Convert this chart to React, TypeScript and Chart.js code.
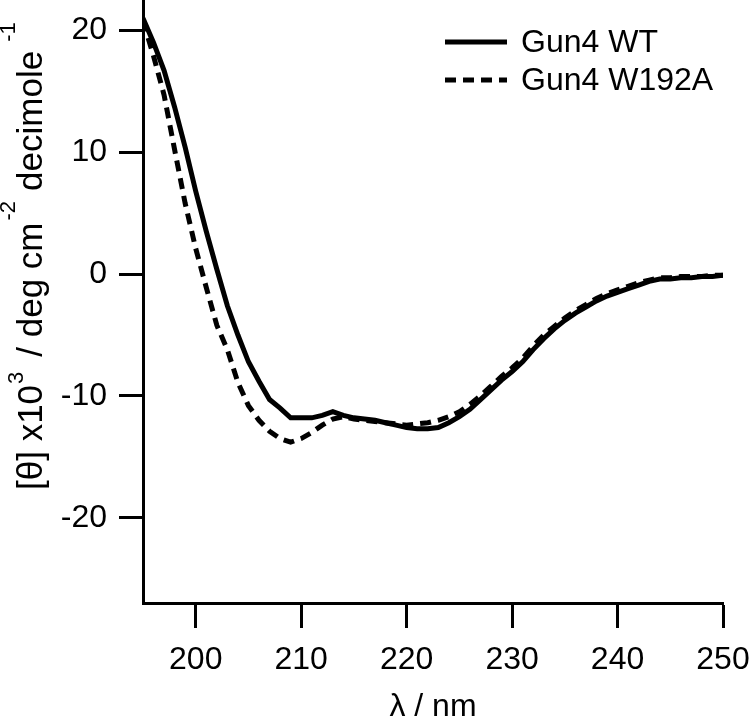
import React, { useEffect, useRef } from "react";
import { Chart, registerables } from "chart.js";

Chart.register(...registerables);

// Wavelength (nm)
const wavelengths = [
  195, 196, 197, 198, 199, 200, 201, 202, 203, 204, 205, 206, 207, 208, 209,
  210, 211, 212, 213, 214, 215, 216, 217, 218, 219, 220, 221, 222, 223, 224,
  225, 226, 227, 228, 229, 230, 231, 232, 233, 234, 235, 236, 237, 238, 239,
  240, 241, 242, 243, 244, 245, 246, 247, 248, 249, 250,
];

// [θ] x10^3 for Gun4 WT
const wtValues = [
  21.0, 19.0, 16.7, 13.7, 10.4, 6.8, 3.5, 0.4, -2.6, -5.0, -7.2, -8.8, -10.3,
  -11.0, -11.8, -11.8, -11.8, -11.6, -11.3, -11.6, -11.8, -11.9, -12.0, -12.2,
  -12.4, -12.6, -12.7, -12.7, -12.6, -12.2, -11.7, -11.1, -10.3, -9.5, -8.7,
  -8.0, -7.2, -6.2, -5.3, -4.5, -3.8, -3.2, -2.7, -2.2, -1.8, -1.5, -1.2, -0.9,
  -0.6, -0.4, -0.4, -0.3, -0.3, -0.2, -0.2, -0.1,
];

// [θ] x10^3 for Gun4 W192A
const mutValues = [
  20.8, 17.9, 14.7, 10.2, 5.8, 2.1, -1.1, -4.2, -6.2, -8.9, -10.8, -12.0,
  -12.9, -13.5, -13.8, -13.5, -13.0, -12.4, -11.9, -11.7, -11.9, -12.0, -12.1,
  -12.2, -12.3, -12.4, -12.3, -12.2, -12.0, -11.7, -11.3, -10.7, -10.0, -9.2,
  -8.4, -7.7, -6.9, -5.9, -5.0, -4.3, -3.6, -3.0, -2.5, -2.0, -1.6, -1.3, -1.0,
  -0.7, -0.5, -0.3, -0.3, -0.2, -0.2, -0.2, -0.1, -0.1,
];

const seriesLabels = ["Gun4 WT", "Gun4 W192A"];
const xTicks = [200, 210, 220, 230, 240, 250];
const yTicks = [-20, -10, 0, 10, 20];

const FONT = "'Liberation Sans', Arial, Helvetica, sans-serif";

const annotationPlugin = {
  id: "customText",
  afterDraw(chart: any) {
    const ctx = chart.ctx as CanvasRenderingContext2D;
    const area = chart.chartArea;
    ctx.save();
    ctx.fillStyle = "#000";
    ctx.strokeStyle = "#000";

    // Legend
    const legendX0 = 445;
    const legendX1 = 507;
    const legendY = [42, 80];
    chart.data.datasets.forEach((ds: any, i: number) => {
      ctx.save();
      ctx.lineWidth = 5;
      ctx.setLineDash(ds.borderDash || []);
      ctx.beginPath();
      ctx.moveTo(legendX0, legendY[i]);
      ctx.lineTo(legendX1, legendY[i]);
      ctx.stroke();
      ctx.restore();
      ctx.font = `32px ${FONT}`;
      ctx.textBaseline = "middle";
      ctx.textAlign = "left";
      ctx.fillText(ds.label, 521, legendY[i] + 1);
    });

    // X axis title
    ctx.font = `32px ${FONT}`;
    ctx.textAlign = "center";
    ctx.textBaseline = "alphabetic";
    ctx.fillText("λ / nm", (area.left + area.right) / 2, 716);

    // Y axis title with superscripts
    ctx.save();
    ctx.translate(42, 490);
    ctx.rotate(-Math.PI / 2);
    ctx.textAlign = "left";
    ctx.textBaseline = "alphabetic";
    const parts: { t: string; sup: boolean; dy: number; gap: number }[] = [
      { t: "[θ] x10", sup: false, dy: 0, gap: 1 },
      { t: "3", sup: true, dy: -19, gap: 15 },
      { t: "/ deg cm", sup: false, dy: 0, gap: 2 },
      { t: "-2", sup: true, dy: -27, gap: 10 },
      { t: "decimole", sup: false, dy: 0, gap: 9 },
      { t: "-1", sup: true, dy: -27, gap: 0 },
    ];
    let x = 0;
    for (const p of parts) {
      ctx.font = p.sup ? `22px ${FONT}` : `35px ${FONT}`;
      ctx.fillText(p.t, x, p.dy);
      x += ctx.measureText(p.t).width + p.gap;
    }
    ctx.restore();
    ctx.restore();
  },
};

export default function App() {
  const canvasRef = useRef<HTMLCanvasElement | null>(null);

  useEffect(() => {
    if (!canvasRef.current) return;
    const chart = new Chart(canvasRef.current, {
      type: "line",
      data: {
        datasets: [
          {
            label: seriesLabels[0],
            data: wavelengths.map((w, i) => ({ x: w, y: wtValues[i] })),
            borderColor: "#000",
            borderWidth: 5,
            pointRadius: 0,
            tension: 0,
            fill: false,
          },
          {
            label: seriesLabels[1],
            data: wavelengths.map((w, i) => ({ x: w, y: mutValues[i] })),
            borderColor: "#000",
            borderWidth: 5,
            borderDash: [11, 7],
            pointRadius: 0,
            tension: 0,
            fill: false,
          },
        ],
      },
      options: {
        animation: false,
        responsive: false,
        devicePixelRatio: 1,
        layout: { padding: { left: 0, top: 0, right: 27, bottom: 0 } },
        plugins: {
          legend: { display: false },
          tooltip: { enabled: false },
        },
        scales: {
          x: {
            type: "linear",
            position: "bottom",
            min: 195,
            max: 250,
            afterBuildTicks: (scale: any) => {
              scale.ticks = xTicks.map((v) => ({ value: v }));
            },
            afterFit: (scale: any) => {
              scale.height = 116;
              scale.paddingLeft = 0;
              scale.paddingRight = 0;
              scale.paddingTop = 0;
              scale.paddingBottom = 0;
            },
            grid: {
              display: true,
              drawOnChartArea: false,
              drawTicks: true,
              tickLength: 25,
              tickWidth: 3,
              tickColor: "#000",
            },
            border: { display: true, color: "#000", width: 3 },
            ticks: {
              color: "#000",
              font: { family: FONT, size: 32 },
              padding: 13,
              maxRotation: 0,
              autoSkip: false,
            },
          },
          y: {
            type: "linear",
            position: "left",
            min: -27,
            max: 22.5,
            afterBuildTicks: (scale: any) => {
              scale.ticks = yTicks.map((v) => ({ value: v }));
            },
            afterFit: (scale: any) => {
              scale.width = 143;
              scale.paddingLeft = 0;
              scale.paddingRight = 0;
              scale.paddingTop = 0;
              scale.paddingBottom = 0;
            },
            grid: {
              display: true,
              drawOnChartArea: false,
              drawTicks: true,
              tickLength: 24,
              tickWidth: 3,
              tickColor: "#000",
            },
            border: { display: true, color: "#000", width: 3 },
            ticks: {
              color: "#000",
              font: { family: FONT, size: 32 },
              padding: 12,
              autoSkip: false,
            },
          },
        },
      },
      plugins: [annotationPlugin],
    });
    return () => chart.destroy();
  }, []);

  return (
    <div
      style={{
        position: "fixed",
        left: 0,
        top: 0,
        width: 750,
        height: 719,
        background: "#fff",
      }}
    >
      <canvas ref={canvasRef} width={750} height={719} />
    </div>
  );
}
